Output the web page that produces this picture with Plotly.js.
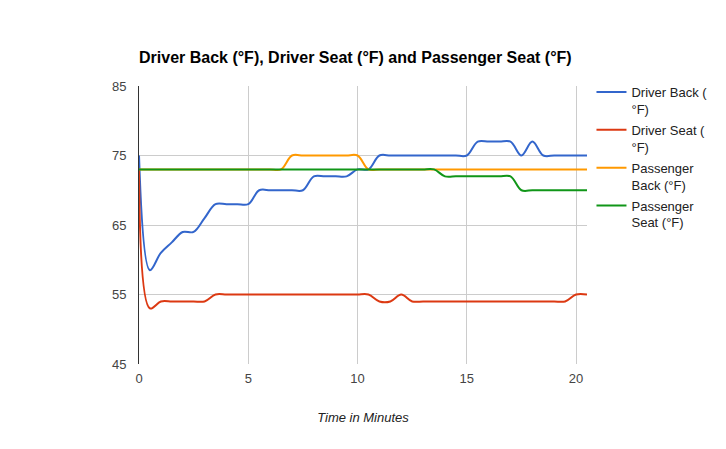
<!DOCTYPE html>
<html>
<head>
<meta charset="utf-8">
<script src="https://cdn.plot.ly/plotly-3.0.1.min.js"></script>
<style>html,body{margin:0;padding:0;background:#fff;}#chart{width:726px;height:449px;}</style>
</head>
<body>
<div id="chart"></div>
<script>
const minutes = [0,0.5,1,1.5,2,2.5,3,3.5,4,4.5,5,5.5,6,6.5,7,7.5,8,8.5,9,9.5,10,10.5,11,11.5,12,12.5,13,13.5,14,14.5,15,15.5,16,16.5,17,17.5,18,18.5,19,19.5,20,20.5];
const driverBack = [75,58.5,61,62.5,64,64,66,68,68,68,68,70,70,70,70,70,72,72,72,72,73,73,75,75,75,75,75,75,75,75,75,77,77,77,77,75,77,75,75,75,75,75];
const driverSeat = [73,53,54,54,54,54,54,55,55,55,55,55,55,55,55,55,55,55,55,55,55,55,54,54,55,54,54,54,54,54,54,54,54,54,54,54,54,54,54,54,55,55];
const passengerBack = [73,73,73,73,73,73,73,73,73,73,73,73,73,73,75,75,75,75,75,75,75,73,73,73,73,73,73,73,73,73,73,73,73,73,73,73,73,73,73,73,73,73];
const passengerSeat = [73,73,73,73,73,73,73,73,73,73,73,73,73,73,73,73,73,73,73,73,73,73,73,73,73,73,73,73,72,72,72,72,72,72,72,70,70,70,70,70,70,70];
const seriesNames = ["Driver Back (<br>°F)","Driver Seat (<br>°F)","Passenger<br>Back (°F)","Passenger<br>Seat (°F)"];
const xTicks = [0,5,10,15,20];
const yTicks = [45,55,65,75,85];

const colors = ["#3366cc","#dc3912","#ff9900","#109618"];
const series = [driverBack, driverSeat, passengerBack, passengerSeat];
const traces = series.map((ys, i) => ({
  x: minutes, y: ys, name: seriesNames[i], type: "scatter", mode: "lines",
  line: {color: colors[i], width: 2, shape: "spline", smoothing: 1},
  legendgroup: "g" + i, hoverinfo: "skip"
}));

const font = "Arial, 'Liberation Sans', sans-serif";
const layout = {
  width: 726, height: 449,
  margin: {l: 139, r: 139, t: 86, b: 85},
  paper_bgcolor: "#fff", plot_bgcolor: "#fff",
  font: {family: font, size: 13, color: "#444"},
  title: {text: "<b>Driver Back (°F), Driver Seat (°F) and Passenger Seat (°F)</b>",
          font: {family: font, size: 16, color: "#000"},
          x: 0, xanchor: "left", xref: "paper", y: 1 - 57/449, yanchor: "middle"},
  xaxis: {range: [0, 20.5], tickvals: xTicks, ticktext: xTicks.map(String),
          showgrid: true, gridcolor: "#cccccc", gridwidth: 1, zeroline: false, showline: false,
          ticks: "", ticklabelstandoff: 5, tickfont: {family: font, size: 13, color: "#444"},
          title: {text: "<i>Time in Minutes</i>", font: {family: font, size: 13, color: "#222"}, standoff: 27}},
  yaxis: {range: [45, 85], tickvals: yTicks, ticktext: yTicks.map(String),
          showgrid: true, gridcolor: "#cccccc", gridwidth: 1, zeroline: false,
          showline: true, linecolor: "#333", linewidth: 1,
          ticks: "", ticklabelstandoff: 9, tickfont: {family: font, size: 13, color: "#444"}},
  legend: {x: 1.01, xanchor: "left", y: 1.032, yanchor: "top", valign: "top",
           font: {family: font, size: 13, color: "#222"}, tracegroupgap: 1,
           bgcolor: "rgba(0,0,0,0)"},
  showlegend: true
};
Plotly.newPlot("chart", traces, layout, {staticPlot: true, displayModeBar: false});
</script>
</body>
</html>
